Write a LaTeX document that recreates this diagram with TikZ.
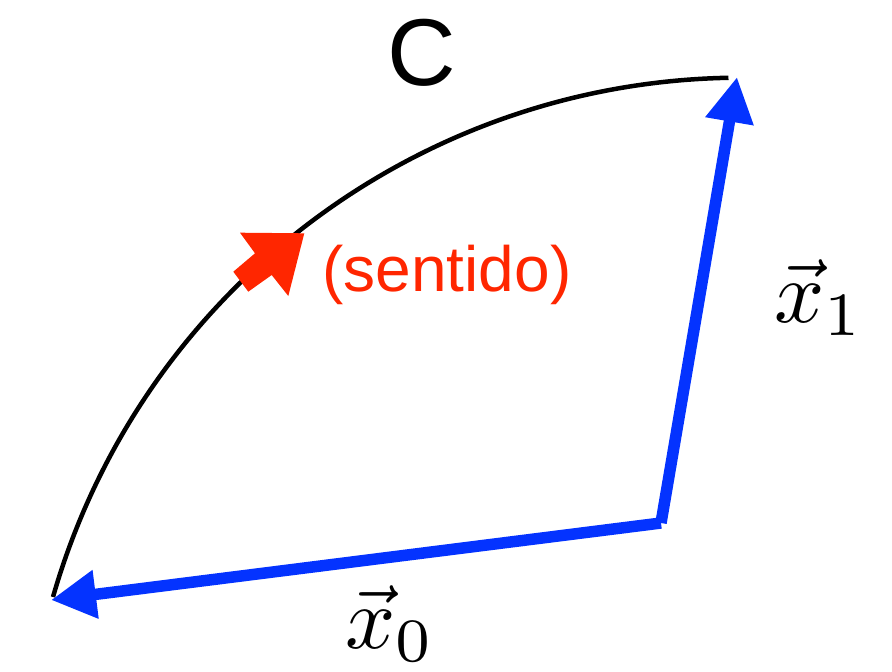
\documentclass[tikz,border=0pt]{standalone}
\usepackage{fontspec}
\newfontfamily\labelsans{Liberation Sans}
\usetikzlibrary{arrows.meta}
\definecolor{vecblue}{HTML}{0433FF}
\definecolor{senred}{HTML}{FF2600}
\tikzset{
  vecarrow/.style={draw=vecblue, line width=11.5pt, line cap=butt,
    -{Triangle[length=45pt,width=46pt]}},
  curveline/.style={draw=black, line width=4.5pt},
  mathlabel/.style={inner sep=0pt, scale=8.8, anchor=base},
  sanslabel/.style={inner sep=0pt, anchor=base, font=\labelsans}
}
\begin{document}
\begin{tikzpicture}[x=1pt, y=-1pt]
  \path[use as bounding box] (0,0) rectangle (892,672);
  % points
  \coordinate (O) at (661,523);
  \coordinate (X0) at (51,600);
  \coordinate (X1) at (737,77);
  \coordinate (A) at (53,597);
  % curve C (circular arc)
  \draw[curveline] (A) arc[start angle=196, end angle=268.9, radius=717];
  % vectors
  \draw[vecarrow] (O) -- (X0);
  \draw[vecarrow] (O) -- (X1);
  % direction arrow
  \fill[senred] (304.3,233.3) -- (240,232.7) -- (255,253.3) -- (233.3,271.7)
    -- (248.3,291.7) -- (271.7,275) -- (288.3,296) -- cycle;
  % labels
  \node[sanslabel, font=\labelsans\fontsize{95}{100}\selectfont] (C) at (422,85) {C};
  \node[sanslabel, text=senred, font=\labelsans\fontsize{64}{70}\selectfont] (sent) at (447,291) {(sentido)};
  \node[mathlabel] (l0) at (390,648) {$\vec{x}_0$};
  \node[mathlabel] (l1) at (819,322) {$\vec{x}_1$};
\end{tikzpicture}
\end{document}
